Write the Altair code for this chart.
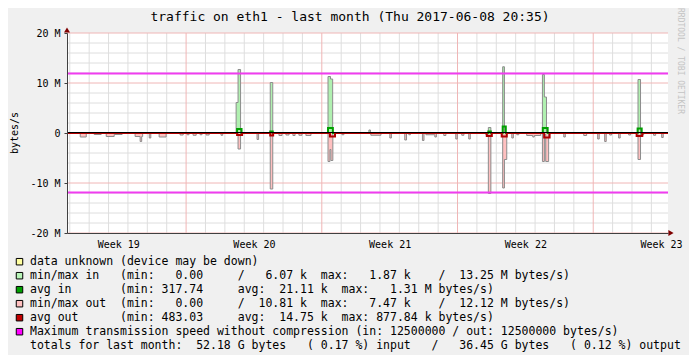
import altair as alt
import pandas as pd

FONT = "DejaVu Sans Mono"
NB = "\u00a0"

# ---- data (days since Mon 2017-05-08 00:00; values in M bytes/s, 1024-based) ----
DOM = [0.857, 31.857]
MIB = 1048576
MAX_SPEED = 12500000

week_ticks = [3.5, 10.5, 17.5, 24.5, 31.5]
week_labels = ["Week 19", "Week 20", "Week 21", "Week 22", "Week 23"]
day_lines = list(range(1, 32))
week_lines = [7, 14, 21, 28]
y_minor = [v for v in range(-18, 19, 2) if v % 10 != 0]
y_major = [-20, -10, 0, 10, 20]

# min/max in
in_start = [9.58, 9.68, 11.34, 14.32, 14.45, 16.43, 22.59, 23.33, 25.38, 25.48, 30.31]
in_end   = [9.68, 9.81, 11.47, 14.45, 14.56, 16.51, 22.72, 23.42, 25.48, 25.59, 30.44]
in_max   = [6.1, 12.7, 10.1, 11.3, 10.8, 0.6, 1.1, 13.25, 11.7, 7.2, 10.7]

# min/max out (magnitudes, drawn negative)
out_start = [1.54, 2.26, 2.88, 3.29, 4.37, 4.63, 4.71, 5.10, 5.61,
             6.69, 7.05, 7.36, 7.72, 8.03, 8.80, 9.68,
             10.66, 11.34, 11.79, 12.15, 12.51, 12.82, 13.18,
             14.32, 14.42, 14.47, 15.04, 16.53, 17.51, 18.28,
             18.49, 19.19, 19.37, 19.83, 20.29, 20.91, 21.22, 21.58, 22.46, 22.59,
             23.33, 23.42, 23.80, 24.06, 24.57, 24.88, 24.96, 25.38, 25.48, 25.55,
             26.48, 27.51, 28.23, 28.59, 28.85, 29.31, 29.83, 30.31, 30.50, 31.11, 31.53]
out_end   = [1.85, 2.62, 3.29, 3.70, 4.63, 4.71, 4.76, 5.18, 5.97,
             6.85, 7.15, 7.52, 7.82, 8.19, 8.89, 9.81,
             10.74, 11.47, 11.95, 12.31, 12.62, 12.98, 13.44,
             14.42, 14.47, 14.57, 15.14, 17.05, 17.59, 18.37,
             18.57, 19.27, 19.83, 19.91, 20.40, 20.99, 21.33, 21.66, 22.59, 22.72,
             23.42, 23.54, 23.88, 24.16, 24.88, 24.96, 25.29, 25.48, 25.55, 25.70,
             26.56, 27.66, 28.31, 28.67, 28.95, 29.39, 29.93, 30.44, 30.60, 31.22, 31.61]
out_max   = [0.8, 0.3, 0.7, 0.3, 0.7, 1.7, 0.7, 1.0, 0.8,
             0.4, 0.35, 0.45, 0.35, 0.4, 0.45, 3.2,
             1.3, 11.2, 0.5, 0.4, 0.5, 0.45, 0.5,
             5.7, 3.3, 5.5, 0.35, 0.45, 1.0, 1.4,
             0.35, 1.5, 0.35, 0.8, 0.5, 1.2, 0.45, 1.2, 0.35, 12.1,
             11.0, 5.3, 1.0, 0.35, 0.5, 0.8, 0.5, 5.7, 0.3, 5.7,
             0.8, 0.5, 1.2, 1.7, 0.4, 1.0, 0.4, 5.3, 0.4, 0.45, 0.9]

# avg in / avg out
avgin_start = [9.63, 11.34, 14.32, 22.59, 23.33, 25.40, 30.29]
avgin_end   = [9.86, 11.47, 14.57, 22.72, 23.49, 25.65, 30.50]
avgin_val   = [0.8, 0.3, 1.0, 0.3, 1.31, 1.0, 0.9]

avgout_start = [9.63, 11.34, 14.42, 22.51, 23.28, 25.47, 30.24]
avgout_end   = [9.89, 11.49, 14.68, 22.77, 23.54, 25.75, 30.53]
avgout_val   = [0.4, 0.5, 0.7, 0.6, 0.7, 0.88, 0.6]

title_text = "traffic on eth1 - last month (Thu 2017-06-08 20:35)"
legend_lines = [
    "data unknown (device may be down)",
    "min/max in   (min:   0.00     /   6.07 k  max:   1.87 k    /  13.25 M bytes/s)",
    "avg in       (min: 317.74     avg:  21.11 k  max:   1.31 M bytes/s)",
    "min/max out  (min:   0.00     /  10.81 k  max:   7.47 k    /  12.12 M bytes/s)",
    "avg out      (min: 483.03     avg:  14.75 k  max: 877.84 k bytes/s)",
    "Maximum transmission speed without compression (in: 12500000 / out: 12500000 bytes/s)",
    "totals for last month:  52.18 G bytes   ( 0.17 %) input   /   36.45 G bytes   ( 0.12 %) output",
]
legend_colors = ["#ffffa0", "#b8f4b8", "#00a000", "#ffc0c0", "#c00000", "#ff00ff", None]

# ---- styles ----
C_MINOR = "#dedede"
C_MAJOR = "#f0b6b6"
C_INFILL = "#b0f0b0"
C_OUTFILL = "#ffc0c0"
C_OUTLINE = "#8c8c8c"
C_AVGIN = "#00a000"
C_AVGOUT = "#b00000"
C_MAG = "#f03cf0"
C_AXIS = "#404040"
C_ARROW = "#7f0000"


def steps(starts, ends, vals, sign=1.0):
    d, v = [DOM[0]], [0.0]
    n = len(starts)
    for i in range(n):
        d.append(starts[i]); v.append(sign * vals[i])
        if i + 1 < n and starts[i + 1] == ends[i]:
            continue
        d.append(ends[i]); v.append(0.0)
    d.append(DOM[1]); v.append(0.0)
    return pd.DataFrame({"d": d, "v": v})


df_in = steps(in_start, in_end, in_max)
df_out = steps(out_start, out_end, out_max, -1.0)
df_ain = steps(avgin_start, avgin_end, avgin_val)
df_aout = steps(avgout_start, avgout_end, avgout_val, -1.0)

xs = alt.Scale(domain=DOM, nice=False, zero=False)
ys = alt.Scale(domain=[-20, 20], nice=False, zero=False)

label_arr = "[" + ",".join("'%s'" % w for w in week_labels) + "]"
x_axis = alt.Axis(values=week_ticks, labelExpr=label_arr + "[round((datum.value-3.5)/7)]",
                  ticks=False, grid=False, domainColor=C_AXIS, labelFont=FONT,
                  labelFontSize=10, labelColor="black", labelPadding=6, labelFlush=False,
                  labelOverlap=False, title=None, zindex=1)
y_axis = alt.Axis(values=y_major, labelExpr="datum.value == 0 ? '0' : datum.value + ' M'",
                  grid=False, domainColor=C_AXIS, tickColor=C_AXIS, tickSize=3,
                  labelFont=FONT, labelFontSize=10, labelColor="black", labelPadding=4,
                  labelFlush=False, labelOverlap=False, title=None, zindex=1)

X = alt.X("d:Q", scale=xs, axis=x_axis)
Y = alt.Y("v:Q", scale=ys, axis=y_axis, stack=None)

layers = []
# grid
layers.append(alt.Chart(pd.DataFrame({"d": [d for d in day_lines if d not in week_lines]}))
              .mark_rule(color=C_MINOR, strokeWidth=1).encode(x=X))
layers.append(alt.Chart(pd.DataFrame({"v": y_minor})).mark_rule(color=C_MINOR, strokeWidth=1).encode(y=Y))
layers.append(alt.Chart(pd.DataFrame({"d": week_lines})).mark_rule(color=C_MAJOR, strokeWidth=1).encode(x=X))
layers.append(alt.Chart(pd.DataFrame({"v": y_major})).mark_rule(color=C_MAJOR, strokeWidth=1).encode(y=Y))

# min/max in
layers.append(alt.Chart(df_in).mark_area(interpolate="step-after", color=C_INFILL).encode(
    x=X, y=Y, y2=alt.datum(0)))
layers.append(alt.Chart(df_in).mark_line(interpolate="step-after", color=C_OUTLINE, strokeWidth=1).encode(x=X, y=Y))
# min/max out
layers.append(alt.Chart(df_out).mark_area(interpolate="step-after", color=C_OUTFILL).encode(
    x=X, y=Y, y2=alt.datum(0)))
layers.append(alt.Chart(df_out).mark_line(interpolate="step-after", color=C_OUTLINE, strokeWidth=1).encode(x=X, y=Y))
# averages
layers.append(alt.Chart(df_ain).mark_line(interpolate="step-after", color=C_AVGIN, strokeWidth=2).encode(x=X, y=Y))
layers.append(alt.Chart(df_aout).mark_line(interpolate="step-after", color=C_AVGOUT, strokeWidth=2).encode(x=X, y=Y))
# zero line
layers.append(alt.Chart(pd.DataFrame({"v": [0]})).mark_rule(color="black", strokeWidth=1, yOffset=-0.5).encode(y=Y))
# max speed lines
ms = MAX_SPEED / MIB
layers.append(alt.Chart(pd.DataFrame({"v": [ms, -ms]})).mark_rule(color=C_MAG, strokeWidth=2).encode(y=Y))

# arrows
one = pd.DataFrame({"k": [0]})
layers.append(alt.Chart(one).mark_point(shape="triangle-up", filled=True, color=C_ARROW, size=36, opacity=1)
              .encode(x=alt.value(0), y=alt.value(-3)))
layers.append(alt.Chart(one).mark_point(shape="triangle-right", filled=True, color=C_ARROW, size=36, opacity=1)
              .encode(x=alt.value(604), y=alt.value(200)))

# texts
layers.append(alt.Chart(pd.DataFrame({"t": [title_text]})).mark_text(
    font=FONT, fontSize=13, color="black", align="center", baseline="middle").encode(
    text="t:N", x=alt.value(283), y=alt.value(-16)))
layers.append(alt.Chart(pd.DataFrame({"t": ["bytes/s"]})).mark_text(
    font=FONT, fontSize=10, color="black", align="center", baseline="middle", angle=270).encode(
    text="t:N", x=alt.value(-52), y=alt.value(100)))
layers.append(alt.Chart(pd.DataFrame({"t": ["RRDTOOL / TOBI OETIKER"]})).mark_text(
    font=FONT, fontSize=8, color="#c4c4c4", align="center", baseline="middle", angle=90).encode(
    text="t:N", x=alt.value(613), y=alt.value(28)))

for k, (line, col) in enumerate(zip(legend_lines, legend_colors)):
    yk = 228.7 + 14 * k
    if col is not None:
        layers.append(alt.Chart(one).mark_square(size=42, filled=True, color=col, stroke="black",
                                                 strokeWidth=1, opacity=1)
                      .encode(x=alt.value(-47.5), y=alt.value(yk)))
    layers.append(alt.Chart(pd.DataFrame({"t": [line.replace(" ", NB)]})).mark_text(
        font=FONT, fontSize=11.5, color="black", align="left", baseline="middle").encode(
        text="t:N", x=alt.value(-37), y=alt.value(yk)))

chart = alt.layer(*layers).properties(
    width=601, height=200,
    padding={"left": 59, "top": 25, "right": 21, "bottom": 122},
    autosize=alt.AutoSizeParams(type="none"),
    background="#f0f0f0",
).configure_view(fill="white", strokeWidth=0)

chart.save("out.html", embed_options={"renderer": "svg", "actions": False})
